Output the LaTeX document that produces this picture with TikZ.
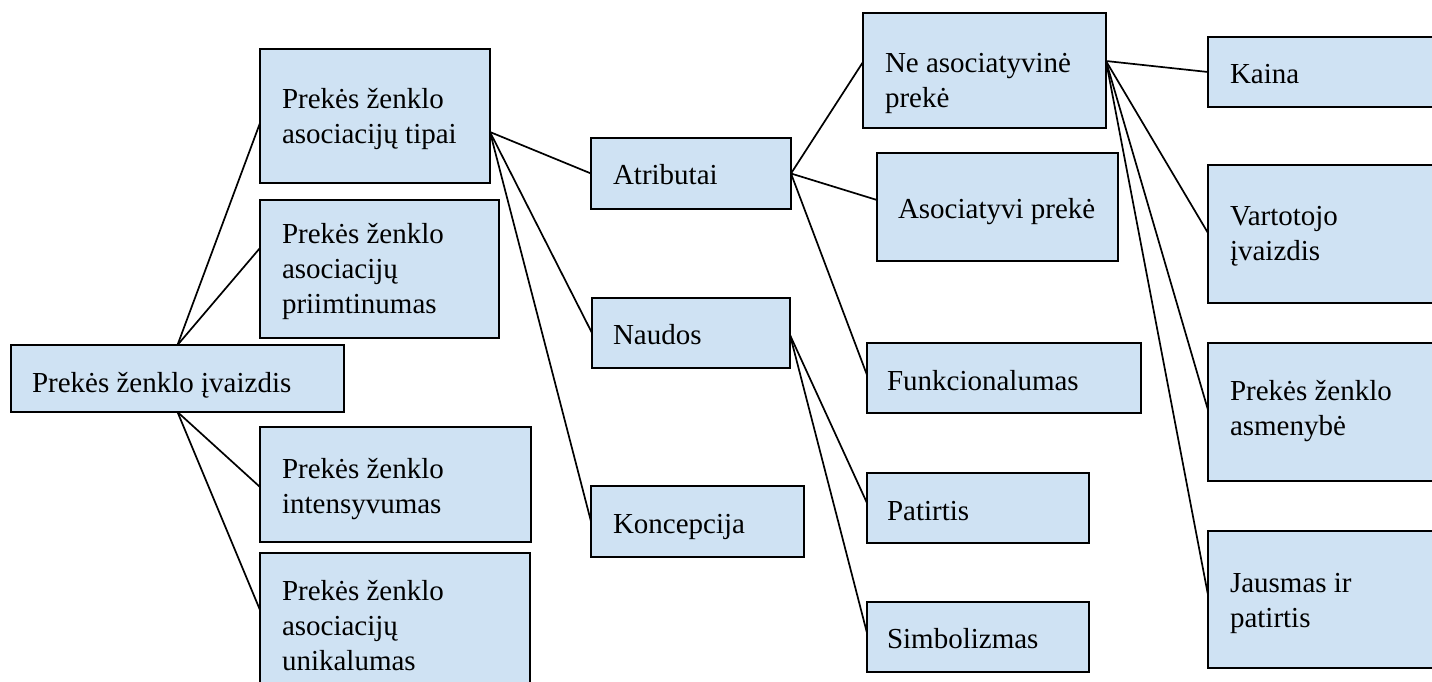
\documentclass[tikz,border=0pt]{standalone}
\usepackage{fontspec}
\setmainfont{Liberation Serif}
\definecolor{boxfill}{RGB}{207,226,243}
\newcommand\mylines[1]{\begin{tabular}[t]{@{}l@{}}#1\end{tabular}}
\begin{document}
\begin{tikzpicture}[x=1pt,y=-1pt,
  box/.style={draw=black, fill=boxfill, line width=1.8pt, rectangle, inner sep=0pt, outer sep=0pt, anchor=north west},
  txt/.style={anchor=base west, inner sep=0pt, outer sep=0pt, font=\fontsize{29}{35}\selectfont},
  conn/.style={draw=black, line width=1.7pt}]
\useasboundingbox (0,0) rectangle (1432,681);
% boxes
\node[box, minimum width=333pt, minimum height=67pt] (root) at (11,345) {};
\node[box, minimum width=230pt, minimum height=134pt] (tipai) at (260,49) {};
\node[box, minimum width=239pt, minimum height=138pt] (priimt) at (260,200) {};
\node[box, minimum width=271pt, minimum height=115pt] (intens) at (260,427) {};
\node[box, minimum width=270pt, minimum height=139pt] (unik) at (260,553) {};
\node[box, minimum width=200pt, minimum height=71pt] (atrib) at (591,138) {};
\node[box, minimum width=198pt, minimum height=70pt] (naudos) at (592,298) {};
\node[box, minimum width=213pt, minimum height=71pt] (koncep) at (591,486) {};
\node[box, minimum width=243pt, minimum height=115pt] (nea) at (863,13) {};
\node[box, minimum width=241pt, minimum height=108pt] (asoc) at (877,153) {};
\node[box, minimum width=274pt, minimum height=70pt] (funk) at (867,343) {};
\node[box, minimum width=222pt, minimum height=70pt] (patir) at (867,473) {};
\node[box, minimum width=222pt, minimum height=70pt] (simb) at (867,602) {};
\node[box, minimum width=237pt, minimum height=70pt] (kaina) at (1208,37) {};
\node[box, minimum width=237pt, minimum height=138pt] (vart) at (1208,165) {};
\node[box, minimum width=237pt, minimum height=138pt] (asm) at (1208,343) {};
\node[box, minimum width=237pt, minimum height=137pt] (jaus) at (1208,531) {};
% texts
\node[txt] (root-t) at (32,392) {Prekės ženklo įvaizdis};
\node[txt] (tipai-t) at (282,108) {\mylines{Prekės ženklo\\asociacijų tipai}};
\node[txt] (priimt-t) at (282,243) {\mylines{Prekės ženklo\\asociacijų\\priimtinumas}};
\node[txt] (intens-t) at (282,478) {\mylines{Prekės ženklo\\intensyvumas}};
\node[txt] (unik-t) at (282,600) {\mylines{Prekės ženklo\\asociacijų\\unikalumas}};
\node[txt] (atrib-t) at (613,184) {Atributai};
\node[txt] (naudos-t) at (613,344) {Naudos};
\node[txt] (koncep-t) at (613,533) {Koncepcija};
\node[txt] (nea-t) at (885,72) {\mylines{Ne asociatyvinė\\prekė}};
\node[txt] (asoc-t) at (898,218) {Asociatyvi prekė};
\node[txt] (funk-t) at (887,390) {Funkcionalumas};
\node[txt] (patir-t) at (887,520) {Patirtis};
\node[txt] (simb-t) at (887,648) {Simbolizmas};
\node[txt] (kaina-t) at (1230,83) {Kaina};
\node[txt] (vart-t) at (1230,225) {\mylines{Vartotojo\\įvaizdis}};
\node[txt] (asm-t) at (1230,400) {\mylines{Prekės ženklo\\asmenybė}};
\node[txt] (jaus-t) at (1230,592) {\mylines{Jausmas ir\\patirtis}};
% connectors
\draw[conn] (root.north) -- ([yshift=-7pt]tipai.west);
\draw[conn] (root.north) -- ([yshift=21pt]priimt.west);
\draw[conn] (root.south) -- ([yshift=-2.5pt]intens.west);
\draw[conn] (root.south) -- ([yshift=12.5pt]unik.west);
\draw[conn] ([yshift=-16pt]tipai.east) -- (atrib.west);
\draw[conn] ([yshift=-16pt]tipai.east) -- (naudos.west);
\draw[conn] ([yshift=-16pt]tipai.east) -- (koncep.west);
\draw[conn] (atrib.east) -- ([yshift=8.5pt]nea.west);
\draw[conn] (atrib.east) -- ([yshift=7pt]asoc.west);
\draw[conn] (atrib.east) -- ([yshift=3pt]funk.west);
\draw[conn] ([yshift=-2pt]naudos.east) -- ([yshift=5pt]patir.west);
\draw[conn] ([yshift=-2pt]naudos.east) -- ([yshift=4pt]simb.west);
\draw[conn] ([yshift=9.5pt]nea.east) -- (kaina.west);
\draw[conn] ([yshift=9.5pt]nea.east) -- ([yshift=1pt]vart.west);
\draw[conn] ([yshift=9.5pt]nea.east) -- ([yshift=2pt]asm.west);
\draw[conn] ([yshift=9.5pt]nea.east) -- ([yshift=4.5pt]jaus.west);
\end{tikzpicture}
\end{document}
